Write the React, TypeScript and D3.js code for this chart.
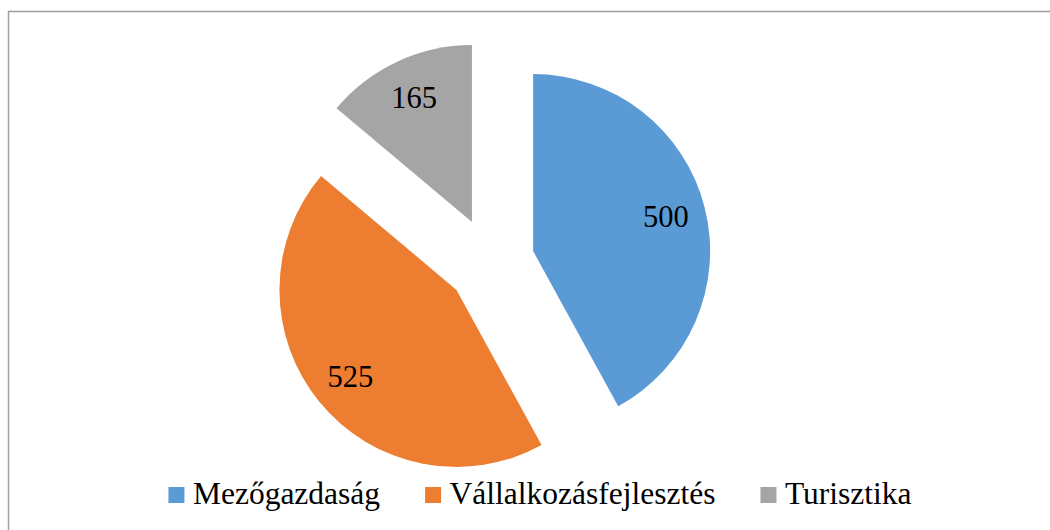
import React from "react";
import * as d3 from "d3";

const categories = ["Mezőgazdaság", "Vállalkozásfejlesztés", "Turisztika"];
const values = [500, 525, 165];
const colors = ["#5B9BD5", "#ED7D31", "#A5A5A5"];

const FONT = "Liberation Serif";
const LEGEND_SIZE = 31.5;
const LABEL_SIZE = 30.5;

function measure(text: string, size: number): number {
  if (typeof document === "undefined") return text.length * size * 0.45;
  const c = document.createElement("canvas");
  const ctx = c.getContext("2d");
  if (!ctx) return text.length * size * 0.45;
  ctx.font = `${size}px "${FONT}"`;
  return ctx.measureText(text).width;
}

export default function App() {
  const cx = 490.5;
  const cy = 262;
  const r = 177;
  const explode = 44;
  const labelR = 137;

  const pie = d3
    .pie<number>()
    .sort(null)
    .value((d) => d)
    .startAngle(0)
    .endAngle(2 * Math.PI);
  const arcs = pie(values);
  const arc = d3.arc<d3.PieArcDatum<number>>().innerRadius(0).outerRadius(r);
  const labelArc = d3
    .arc<d3.PieArcDatum<number>>()
    .innerRadius(labelR)
    .outerRadius(labelR);

  const sq = 16;
  const gapSqText = 8.5;
  const gapItems = 45;
  const widths = categories.map((c) => measure(c, LEGEND_SIZE));
  const total =
    widths.reduce((s, w) => s + sq + gapSqText + w, 0) +
    gapItems * (widths.length - 1);
  let lx0 = 540 - total / 2;
  const legendX = widths.map((w) => {
    const x = lx0;
    lx0 += sq + gapSqText + w + gapItems;
    return x;
  });

  return (
    <svg
      width={1050}
      height={530}
      style={{ position: "absolute", left: 0, top: 0, display: "block" }}
    >
      <rect
        x={8.5}
        y={11.5}
        width={1200}
        height={700}
        fill="#fff"
        stroke="#a0a0a0"
        strokeWidth={1.5}
      />
      <g transform={`translate(${cx},${cy})`}>
        {arcs.map((a, i) => {
          const mid = (a.startAngle + a.endAngle) / 2;
          const ox = explode * Math.sin(mid);
          const oy = -explode * Math.cos(mid);
          const [tx, ty] = labelArc.centroid(a);
          return (
            <g key={i} transform={`translate(${ox},${oy})`}>
              <path d={arc(a) as string} fill={colors[i]} />
              <text
                x={tx}
                y={ty}
                dy="0.34em"
                textAnchor="middle"
                fill="#000"
                style={{ fontFamily: FONT, fontSize: LABEL_SIZE }}
              >
                {values[i]}
              </text>
            </g>
          );
        })}
      </g>
      <g>
        {categories.map((c, i) => (
          <g key={c}>
            <rect x={legendX[i]} y={487} width={sq} height={sq} fill={colors[i]} />
            <text
              x={legendX[i] + sq + gapSqText}
              y={504}
              fill="#000"
              style={{ fontFamily: FONT, fontSize: LEGEND_SIZE }}
            >
              {c}
            </text>
          </g>
        ))}
      </g>
    </svg>
  );
}
